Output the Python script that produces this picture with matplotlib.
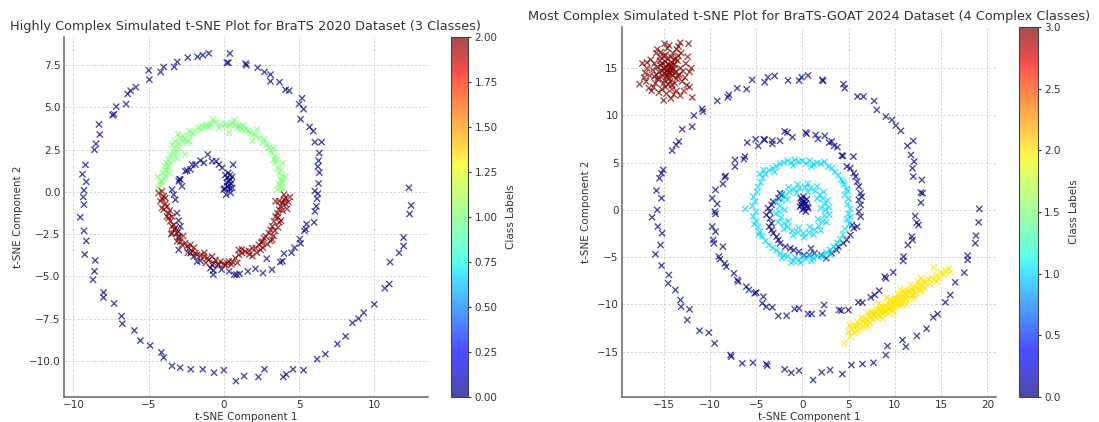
import numpy as np
import matplotlib
matplotlib.use("Agg")
import matplotlib.pyplot as plt

# ---------------- Left chart: BraTS 2020 (3 classes) ----------------
brats2020_class0 = [
    (-5.0, 7.2), (-4.95, 6.65), (-4.2, 7.1), (-4.0, 7.4), (-3.3, 7.4), (-3.1, 7.7), (-2.4, 7.95),
    (-1.75, 8.0), (-1.4, 8.1), (-1.0, 8.2), (0.2, 7.65), (0.3, 7.65), (0.4, 8.2), (1.45, 7.6),
    (1.5, 7.5), (2.25, 7.35), (2.7, 7.1), (3.1, 6.95), (3.1, 6.55), (3.7, 6.5), (4.1, 6.05),
    (4.35, 6.0), (5.2, 5.55), (5.0, 5.2), (5.3, 4.9), (5.1, 4.3), (5.7, 3.85), (5.95, 3.6),
    (6.05, 2.95), (6.5, 2.95), (6.35, 2.3), (6.3, 1.85), (6.25, 1.5), (6.35, 1.15), (6.3, 0.5),
    (6.05, 0.05), (6.25, -0.1), (6.2, -0.4), (6.15, -0.85), (6.05, -1.15), (6.0, -1.8),
    (5.5, -1.9), (5.45, -2.2), (5.35, -2.3), (5.05, -2.8), (5.1, -3.05), (4.7, -3.3), (4.5, -3.6),
    (4.0, -3.65), (3.9, -4.1), (3.75, -4.15), (3.2, -4.6), (2.85, -3.95), (2.6, -4.8), (2.1, -4.55),
    (1.6, -4.7), (1.05, -4.85), (0.85, -4.9), (0.7, -4.9), (0.35, -4.7), (-0.15, -4.6),
    (-0.7, -4.65), (-0.7, -4.9),
    (-6.5, 5.2), (-7.15, 5.05), (-7.3, 4.6), (-7.4, 4.55), (-6.4, 5.8), (-6.2, 6.0), (-5.85, 6.2),
    (-8.3, 4.0), (-8.25, 3.4), (-8.5, 2.85), (-8.6, 2.5), (-9.2, 1.6), (-9.4, 1.05), (-9.15, 0.6),
    (-9.3, 0.1), (-9.35, -0.3), (-9.3, -0.75), (-9.55, -1.5), (-9.3, -2.3), (-9.15, -2.9),
    (-9.25, -3.7), (-8.55, -4.05), (-8.6, -4.7), (-8.7, -5.2), (-8.0, -5.95), (-8.0, -6.25),
    (-7.3, -6.6), (-6.8, -7.35), (-6.75, -7.8), (-5.95, -8.2), (-5.55, -8.8), (-4.9, -9.1),
    (-4.15, -9.5), (-4.0, -9.8), (-3.45, -10.3), (-2.9, -10.4), (-2.2, -10.5), (-1.4, -10.5),
    (-0.65, -10.7), (0.0, -10.55), (0.8, -11.2), (1.35, -10.9), (2.3, -10.95), (2.7, -10.5),
    (3.95, -10.95), (4.15, -10.8), (4.6, -10.5), (5.3, -10.55), (6.2, -9.9), (6.75, -9.6),
    (7.55, -9.0), (8.1, -8.55), (8.55, -7.75), (8.95, -7.5), (9.3, -7.15), (10.0, -6.65),
    (10.7, -5.7), (11.0, -5.45), (11.05, -4.15), (11.65, -3.6), (11.95, -3.2), (11.95, -2.7),
    (12.35, -1.3), (12.45, -0.8), (12.3, 0.25),
    (0.22, 0.83), (0.33, 0.63), (0.44, 0.73), (0.22, 0.34), (0.38, 0.2), (0.56, 0.24),
    (0.16, -0.16), (0.0, 0.14), (0.29, 1.13), (0.62, 1.62), (0.1, 1.0), (0.4, 1.0), (0.5, 0.5),
    (0.3, 0.3), (0.45, -0.05), (0.2, 0.55), (0.05, 0.2), (0.55, 0.9),
    (-0.11, 1.43), (-0.33, 1.62), (-0.51, 1.82), (-0.78, 1.82), (-1.07, 2.22), (-1.33, 1.72),
    (-1.56, 1.86), (-1.89, 1.62), (-2.11, 1.62), (-2.22, 1.33), (-2.44, 1.27), (-2.56, 1.23),
    (-2.89, 0.73), (-3.0, 0.63), (-2.95, 0.75), (-2.78, 0.34), (-3.44, 0.14), (-3.33, -0.16),
    (-3.22, -0.46), (-3.11, -1.25), (-3.0, -1.7), (-2.89, -2.04), (-3.04, -2.34), (-3.0, -2.63),
    (-3.0, -3.43), (-2.33, -3.33), (-2.22, -3.62), (-2.0, -3.82), (-1.78, -4.12), (-1.56, -4.08),
    (-0.78, -4.32), (-0.89, -4.51), (-0.33, -4.32),
]
brats2020_class1 = [
    (-4.33, 0.2), (-4.22, 0.44), (-4.11, 0.63), (-4.0, 0.83), (-3.89, 0.93), (-4.07, 1.13),
    (-3.78, 1.23), (-3.67, 1.52), (-3.89, 1.52), (-3.56, 1.72), (-3.44, 2.02), (-3.56, 2.22),
    (-3.33, 2.32), (-3.11, 2.32), (-3.0, 2.61), (-3.0, 2.81), (-3.04, 3.41), (-2.89, 3.21),
    (-2.78, 3.01), (-2.56, 3.11), (-2.44, 2.91), (-2.33, 3.01), (-2.56, 2.22), (-2.11, 3.5),
    (-1.89, 3.6), (-1.67, 3.8), (-1.44, 3.9), (-1.22, 3.9), (-1.0, 3.84), (-0.89, 4.0),
    (-0.56, 4.1), (-0.22, 4.0), (0.11, 4.04), (0.44, 3.96), (0.33, 3.5), (0.56, 4.1), (0.78, 4.0),
    (1.0, 3.9), (1.11, 3.8), (1.22, 3.7), (1.44, 3.7), (1.78, 3.5), (2.0, 3.41), (2.11, 3.31),
    (1.89, 3.01), (2.67, 3.11), (2.89, 2.81), (3.0, 2.61), (3.11, 2.42), (3.44, 2.12),
    (3.33, 1.92), (3.44, 1.72), (3.56, 1.43), (3.67, 1.13), (3.89, 0.93), (3.78, 0.73),
    (3.89, 0.53), (3.67, 0.44), (3.78, 0.24), (4.0, 0.2), (3.56, 0.14), (-3.44, 2.81),
    (-3.22, 3.01), (-3.9, 1.3), (-3.7, 1.9), (-3.3, 2.6), (-2.7, 3.3), (-2.2, 3.3), (-1.5, 3.7),
    (-0.3, 3.8), (0.9, 3.8), (1.6, 3.6), (2.4, 3.2), (2.6, 2.9), (3.2, 2.3), (3.5, 1.9),
    (3.8, 1.3), (3.9, 0.7), (-4.2, 0.6), (-3.8, 1.7), (1.3, 3.95), (-1.1, 4.0), (0.2, 3.9),
    (-3.6, 1.1), (-3.1, 2.0), (-2.3, 3.6), (-0.7, 4.3), (0.7, 4.25), (2.2, 3.7), (3.3, 2.6),
    (3.9, 1.7), (4.1, 0.9), (-4.4, 0.9),
]
brats2020_class2 = [
    (-4.33, -0.06), (-4.11, 0.04), (-4.0, -0.26), (-4.22, -0.55), (-3.89, -0.36), (-4.11, -0.95),
    (-3.78, -0.85), (-4.0, -1.05), (-3.67, -1.25), (-3.78, -1.45), (-3.67, -1.54), (-3.44, -1.45),
    (-3.56, -1.74), (-3.33, -1.94), (-3.22, -2.14), (-3.44, -2.44), (-3.11, -2.44), (-3.0, -2.73),
    (-2.89, -2.93), (-2.78, -3.13), (-2.56, -3.03), (-2.44, -3.23), (-2.22, -3.13), (-2.11, -3.52),
    (-1.89, -3.62), (-1.78, -3.72), (-1.56, -3.76), (-1.33, -3.82), (-1.11, -3.92), (-1.0, -4.02),
    (-0.78, -3.82), (-0.56, -4.02), (-0.22, -4.12), (0.0, -4.28), (0.11, -4.32), (0.22, -4.22),
    (0.33, -4.12), (0.56, -4.12), (0.78, -3.92), (1.0, -3.72), (1.22, -3.62), (1.44, -3.52),
    (1.67, -3.49), (1.89, -3.33), (2.11, -3.33), (2.33, -3.13), (2.56, -2.93), (2.67, -2.73),
    (2.78, -2.63), (3.0, -2.44), (3.11, -2.24), (3.22, -2.04), (3.33, -1.74), (3.44, -1.45),
    (3.56, -1.25), (3.67, -1.05), (3.78, -0.85), (3.89, -0.65), (4.0, -0.46), (4.11, -0.36),
    (4.0, -0.16), (3.67, -0.55), (3.44, -0.55), (3.22, -2.83), (2.44, -3.43), (1.0, -3.43),
    (-0.67, -4.22), (-3.11, -2.93), (-3.44, -2.04), (4.1, -0.7), (4.3, -0.6), (4.2, -1.0),
    (3.6, -1.5), (3.8, -1.7), (3.3, -2.6), (3.1, -2.9), (2.5, -3.0), (2.6, -3.3), (3.9, -1.1),
    (3.7, -1.8), (3.4, -2.3), (2.2, -3.6), (1.7, -3.7), (1.2, -3.4), (0.5, -4.3), (-0.4, -4.3),
    (-1.3, -3.6), (-2.0, -3.3), (-2.7, -2.6), (-3.3, -2.2), (-3.6, -1.1), (-3.9, -0.7), (-4.1, -0.4),
    (-3.5, -2.5), (-2.4, -3.6), (-1.2, -4.2), (0.9, -4.2), (1.9, -3.8), (2.9, -3.1), (3.6, -2.1),
    (4.4, -0.3),
]

# ---------------- Right chart: BraTS-GOAT 2024 (4 classes) ----------------
goat2024_class0 = [
    (-5.42, 13.77), (-4.08, 13.52), (-3.72, 14.05), (-3.0, 14.19), (-1.55, 13.7), (-0.36, 13.7),
    (-0.07, 14.05), (0.61, 14.23), (2.17, 13.77), (2.24, 13.66), (4.44, 13.31), (4.58, 12.88),
    (5.96, 12.0), (6.61, 12.0), (7.76, 11.54), (8.05, 10.59), (9.03, 9.88), (9.68, 9.53),
    (10.11, 8.93), (10.65, 8.37), (11.37, 6.78), (11.99, 7.31), (11.73, 5.82), (12.09, 5.12),
    (11.91, 4.41), (11.99, 3.53), (12.92, 3.18), (12.82, 1.84), (13.0, 1.76), (12.82, 0.78),
    (12.2, -0.64), (12.38, -1.34), (12.56, -1.59), (11.84, -2.82), (11.91, -3.18), (11.41, -3.71),
    (10.94, -4.94), (10.9, -5.4), (9.82, -6.6), (8.92, -7.06), (9.03, -7.24), (8.3, -8.54),
    (7.83, -9.0), (7.4, -9.25), (6.5, -9.81), (6.06, -9.78),
    (-7.04, 12.88), (-6.03, 12.78), (-7.94, 12.18), (-8.05, 11.93), (-9.2, 11.54), (-10.83, 10.7),
    (-10.76, 10.41), (-11.73, 9.99), (-11.91, 8.82), (-12.99, 8.54), (-13.36, 7.24), (-13.65, 6.88),
    (-14.08, 6.28), (-15.05, 4.24), (-15.23, 3.88), (-15.45, 3.35), (-15.78, 2.05), (-15.23, 1.24),
    (-15.7, 0.0), (-16.25, -0.78), (-15.63, -1.76), (-15.16, -2.47), (-15.34, -3.71), (-15.88, -4.69),
    (-15.23, -5.89), (-14.44, -6.88), (-14.51, -7.77), (-13.72, -8.47), (-13.18, -9.53),
    (-13.11, -10.24), (-12.2, -10.52), (-12.45, -11.65), (-11.12, -12.78), (-10.11, -12.99),
    (-9.49, -14.12), (-7.76, -15.35), (-7.69, -15.53), (-6.5, -16.24), (-5.34, -16.17),
    (-3.9, -16.31), (-3.79, -16.48), (-1.91, -16.87), (-1.19, -17.23), (-0.36, -17.01),
    (1.16, -18.0), (2.09, -17.19), (3.0, -16.94), (4.33, -17.37), (5.31, -16.41), (6.5, -16.31),
    (7.69, -16.17), (9.03, -15.35), (9.21, -14.4), (10.83, -13.77), (11.19, -14.47),
    (12.38, -13.34), (13.43, -12.57), (14.15, -11.37), (14.62, -11.01), (15.45, -9.78),
    (15.99, -9.0), (16.53, -7.66), (17.51, -6.64), (17.87, -5.29), (17.87, -4.84), (18.7, -3.53),
    (18.77, -2.72), (19.06, -1.31), (19.13, 0.11),
    (-1.91, 8.3), (-1.62, 8.19), (-1.08, 7.7), (0.36, 8.19), (0.47, 8.05), (1.44, 7.94),
    (1.7, 7.52), (2.42, 7.84), (2.89, 7.13), (3.18, 7.24), (3.43, 6.78), (3.79, 6.64), (4.26, 5.75),
    (4.4, 5.72), (5.52, 5.65), (-5.05, 7.48), (-4.77, 6.78), (-4.15, 7.48), (-4.08, 7.41),
    (-3.25, 7.34), (-3.25, 6.99), (-2.42, 7.31), (-5.96, 7.13), (-6.21, 5.65), (-6.32, 5.37),
    (-7.29, 5.29), (-7.29, 4.59), (-8.3, 3.6), (-8.38, 3.46), (-8.59, 2.75), (-9.39, 2.12),
    (-9.75, 1.24), (-9.21, 0.64), (-9.46, -0.18), (-9.39, -0.42), (-9.75, -1.76), (-9.39, -2.29),
    (-9.64, -3.18), (-9.57, -3.53), (-8.59, -3.88), (-9.03, -4.94), (-8.92, -5.22), (-8.38, -5.65),
    (-8.23, -6.0), (-7.4, -6.71), (-7.04, -7.41), (-6.93, -7.59), (-6.06, -8.12), (-5.78, -8.47),
    (-5.16, -8.82), (-4.98, -8.75), (-4.22, -9.18), (-4.33, -9.88), (-3.9, -10.24), (-3.25, -10.31),
    (-2.6, -11.22), (-1.7, -11.19), (-0.83, -10.48), (-0.36, -10.41), (0.61, -11.01), (1.01, -11.01),
    (2.35, -10.06), (2.17, -10.94), (3.97, -10.59), (4.22, -10.66), (4.98, -10.59),
    (-0.19, 1.24), (0.0, 1.06), (0.19, 0.88), (0.37, 0.71), (-0.11, 0.53), (0.56, 0.35),
    (0.19, 0.18), (0.0, 0.0), (0.37, -0.18), (0.63, 0.18), (-0.26, 0.35), (0.11, 1.41),
    (0.48, 1.13), (0.26, 0.53), (-0.04, 0.78),
    (-2.22, 1.59), (-2.41, 1.77), (-2.59, 1.24), (-3.15, 0.88), (-3.33, 0.53), (-3.7, 0.18),
    (-3.52, -0.18), (-3.89, -0.53), (-3.52, -0.88), (-3.33, -1.41), (-3.59, -1.77), (-3.33, -2.12),
    (-3.15, -2.47), (-2.78, -2.83), (-2.59, -3.18), (-2.41, -3.53), (-1.85, -3.89), (-1.3, -4.06),
    (-0.93, -4.24), (-0.37, -4.42), (0.19, -4.77), (0.93, -4.06), (0.74, -4.77), (1.3, -4.59),
    (2.04, -4.77), (2.59, -5.12), (3.15, -4.59), (3.7, -4.24), (3.89, -3.89), (4.44, -3.53),
    (4.81, -3.18), (5.19, -2.65), (5.56, -1.94), (5.93, -1.77), (5.37, -1.59), (6.3, -0.71),
    (6.11, -0.18), (6.3, 0.53), (6.11, 1.06), (6.41, 1.41), (6.3, 1.77), (6.11, 2.47), (5.93, 3.0),
    (5.74, 3.53), (5.56, 3.89), (5.19, 4.42), (4.81, 4.59),
]
goat2024_class1 = [
    (-4.0, 3.8), (-3.6, 4.2), (-3.2, 4.4), (-2.8, 4.6), (-2.4, 4.9), (-2.0, 5.0), (-1.6, 5.2),
    (-1.2, 5.0), (-0.8, 5.3), (-0.4, 5.1), (0.0, 5.2), (0.4, 4.9), (0.8, 5.2), (1.2, 4.8),
    (1.6, 5.0), (2.0, 4.9), (2.4, 5.1), (2.8, 4.6), (3.2, 4.4), (3.5, 4.0), (3.9, 3.7),
    (4.2, 3.2), (4.5, 2.7), (4.8, 2.2), (4.6, 1.6), (5.0, 1.2), (4.9, 0.6), (5.2, 0.1), (5.0, -0.4),
    (4.8, -1.0), (5.1, -1.5), (4.6, -2.0), (4.4, -2.6), (4.1, -3.1), (3.8, -3.5), (3.4, -3.9),
    (3.0, -4.2), (2.6, -4.5), (2.1, -4.8), (1.6, -4.9), (1.2, -5.1), (0.8, -4.8), (0.4, -5.2),
    (0.0, -5.0), (-0.4, -5.3), (-0.8, -5.0), (-1.2, -5.6), (-1.6, -4.9), (-2.0, -4.8),
    (-2.4, -4.6), (-2.8, -4.3), (-3.2, -4.0), (-3.6, -3.7), (-4.0, -3.3), (-4.3, -2.8),
    (-4.6, -2.3), (-4.8, -1.8), (-5.0, -1.2), (-5.3, -0.7), (-5.0, -0.2), (-6.2, 0.1),
    (-5.4, 0.4), (-5.1, 0.9), (-5.3, 1.4), (-4.9, 1.9), (-4.8, 2.4), (-4.5, 2.9), (-4.3, 3.4),
    (-1.0, -5.4), (1.0, -5.4), (2.2, -5.0), (-2.2, -5.1), (-4.7, -2.6), (-5.2, -1.5), (4.9, 2.0),
    (5.2, -0.8), (-3.0, 4.0), (1.0, 4.6), (-1.0, 4.7), (3.0, -4.7), (-0.2, -5.6), (4.4, 3.0),
    (-4.6, 3.8), (-4.2, 4.2),
    (2.5, 0.0), (2.4, 0.6), (2.2, 1.2), (1.9, 1.6), (1.4, 2.0), (0.9, 2.3), (0.3, 2.4),
    (-0.3, 2.3), (-0.9, 2.2), (-1.4, 1.9), (-1.9, 1.5), (-2.2, 1.0), (-2.4, 0.4), (-2.5, -0.2),
    (-2.3, -0.8), (-2.0, -1.4), (-1.6, -1.8), (-1.1, -2.2), (-0.5, -2.4), (0.1, -2.5), (0.7, -2.4),
    (1.3, -2.1), (1.8, -1.7), (2.2, -1.2), (2.4, -0.6), (2.9, 0.3), (2.7, 1.0), (2.3, 1.9),
    (1.6, 2.5), (0.6, 2.8), (-0.5, 2.7), (-1.5, 2.4), (-2.2, 1.7), (-2.8, 0.8), (-2.9, -0.4),
    (-2.6, -1.3), (-2.0, -2.0), (-1.0, -2.7), (0.2, -2.9), (1.2, -2.6), (2.0, -2.2), (2.6, -1.3),
    (2.9, -0.5), (2.0, 0.2), (1.6, 1.2), (0.6, 1.9), (-0.6, 1.8), (-1.6, 1.1), (-1.9, 0.0),
    (-1.5, -1.2), (-0.4, -1.9), (0.8, -1.8), (1.7, -1.0),
]
goat2024_class2 = [
    (5.0, -12.9), (5.2, -13.4), (5.4, -12.6), (5.6, -13.0), (5.8, -12.3), (6.0, -12.8),
    (6.2, -12.1), (6.3, -12.6), (6.5, -11.8), (6.6, -12.3), (6.8, -11.5), (6.9, -12.0),
    (7.0, -11.7), (7.2, -11.2), (7.3, -11.9), (7.4, -11.4), (7.6, -11.0), (7.7, -11.6),
    (7.8, -11.2), (7.9, -10.8), (8.0, -11.4), (8.1, -10.9), (8.2, -11.1), (8.3, -10.5),
    (8.4, -11.3), (8.5, -10.7), (8.6, -10.9), (8.7, -10.3), (8.8, -10.8), (8.9, -10.5),
    (9.0, -10.1), (9.1, -10.7), (9.2, -10.3), (9.3, -9.9), (9.4, -10.5), (9.5, -10.1),
    (9.6, -9.7), (9.7, -10.3), (9.8, -9.9), (9.9, -9.6), (10.0, -10.2), (10.1, -9.8),
    (10.2, -9.4), (10.3, -10.0), (10.4, -9.6), (10.5, -9.2), (10.6, -9.8), (10.7, -9.4),
    (10.8, -9.0), (10.9, -9.6), (11.0, -9.2), (11.1, -8.8), (11.2, -9.4), (11.3, -9.0),
    (11.4, -8.6), (11.5, -9.1), (11.6, -8.7), (11.8, -8.4), (11.9, -9.0), (12.0, -8.5),
    (12.2, -8.1), (12.3, -8.8), (12.4, -8.3), (12.6, -7.9), (12.7, -8.5), (12.9, -8.0),
    (13.1, -7.6), (13.2, -8.2), (13.4, -7.7), (13.6, -7.3), (13.8, -7.8), (14.0, -7.1),
    (14.2, -6.1), (14.3, -7.4), (14.6, -6.9), (14.8, -7.2), (15.0, -6.6), (15.3, -6.9),
    (15.5, -6.4), (15.8, -6.2), (16.0, -6.6), (4.5, -14.1),
    (8.5, -10.2), (9.0, -10.8), (9.5, -9.5), (10.0, -9.4), (10.5, -10.1), (11.0, -8.5),
    (11.5, -9.5), (12.0, -9.0), (7.5, -10.7), (8.0, -10.5), (9.8, -10.6), (10.8, -10.0),
    (12.5, -7.6), (6.0, -11.9), (5.5, -12.2), (7.0, -12.3), (13.0, -8.6), (14.5, -7.6),
    (9.3, -11.0), (10.4, -8.9), (6.4, -11.4), (7.1, -10.9), (8.3, -9.9), (9.1, -9.3),
    (10.6, -8.4), (11.7, -7.9), (12.8, -7.2), (8.7, -11.5), (9.9, -10.9), (11.2, -10.0),
    (12.1, -9.4), (5.1, -12.2),
]
goat2024_class3 = [
    (-14.6, 14.8), (-14.3, 15.1), (-14.9, 14.5), (-14.5, 15.4), (-14.2, 14.4), (-15.0, 15.0),
    (-14.7, 14.1), (-14.1, 15.6), (-15.2, 14.7), (-14.4, 13.9), (-14.8, 15.7), (-13.9, 14.9),
    (-15.3, 15.3), (-14.0, 14.2), (-15.1, 14.2), (-14.6, 16.0), (-13.8, 15.4), (-15.5, 14.6),
    (-14.3, 13.6), (-15.4, 15.8), (-13.7, 14.6), (-14.9, 13.7), (-14.2, 16.2), (-15.7, 15.1),
    (-13.6, 13.9), (-15.0, 16.3), (-13.5, 15.8), (-15.8, 14.3), (-14.5, 13.3), (-13.3, 14.3),
    (-14.0, 16.6), (-15.6, 13.8), (-13.2, 15.0), (-16.0, 15.5), (-14.8, 13.0), (-13.8, 13.4),
    (-15.3, 16.7), (-13.4, 16.3), (-16.2, 14.8), (-14.1, 12.8), (-12.9, 14.7), (-15.9, 13.4),
    (-14.6, 17.1), (-13.0, 13.6), (-16.4, 15.9), (-15.2, 12.8), (-13.1, 16.6), (-16.5, 14.2),
    (-13.6, 12.6), (-14.4, 17.4), (-12.7, 14.0), (-15.5, 12.4), (-13.9, 12.2), (-16.8, 15.0),
    (-12.6, 15.5), (-16.1, 13.0), (-14.2, 11.8), (-13.4, 17.3), (-15.8, 16.6), (-12.5, 13.2),
    (-17.0, 14.5), (-16.3, 12.6), (-13.2, 12.1), (-14.9, 17.6), (-12.4, 16.2), (-17.3, 15.5),
    (-17.6, 13.3), (-16.8, 15.6), (-12.2, 13.0), (-11.9, 11.9), (-12.3, 17.6), (-13.2, 17.7),
    (-17.1, 14.0), (-12.8, 12.6), (-15.0, 11.6), (-16.6, 12.9), (-12.2, 14.6), (-13.6, 17.0),
    (-15.7, 17.0), (-14.7, 12.3), (-16.9, 13.6), (-12.0, 15.0), (-14.0, 15.0), (-14.5, 14.5),
    (-15.2, 15.5), (-13.9, 15.9), (-15.0, 13.4), (-14.3, 14.9), (-14.8, 16.4), (-13.5, 14.2),
    (-15.6, 14.0), (-14.1, 13.2), (-15.4, 16.2), (-13.7, 16.0), (-16.0, 14.1),
    (-14.4, 14.6), (-14.7, 15.2), (-14.1, 14.7), (-14.9, 14.9), (-14.6, 14.3), (-14.2, 15.3),
]

left_title = "Highly Complex Simulated t-SNE Plot for BraTS 2020 Dataset (3 Classes)"
right_title = "Most Complex Simulated t-SNE Plot for BraTS-GOAT 2024 Dataset (4 Complex Classes)"
x_label = "t-SNE Component 1"
y_label = "t-SNE Component 2"
cbar_label = "Class Labels"


def stack(groups):
    xs, ys, cs = [], [], []
    for lab, pts in enumerate(groups):
        arr = np.asarray(pts, dtype=float)
        xs.append(arr[:, 0])
        ys.append(arr[:, 1])
        cs.append(np.full(len(arr), lab))
    return np.concatenate(xs), np.concatenate(ys), np.concatenate(cs)


TXT = "#333333"
plt.rcParams['font.family'] = ['DejaVu Sans']

fig = plt.figure(figsize=(10.99, 4.22), dpi=100)
fig.patch.set_facecolor("white")


def style(ax):
    ax.set_facecolor("white")
    ax.grid(True, color="#cfcfcf", linestyle=(0, (3, 2)), linewidth=0.6)
    ax.set_axisbelow(True)
    for s in ("top", "right"):
        ax.spines[s].set_visible(False)
    for s in ("left", "bottom"):
        ax.spines[s].set_color("#666666")
        ax.spines[s].set_linewidth(1.1)
    ax.tick_params(length=0, labelsize=7.5, colors=TXT, pad=2.5)
    ax.set_xlabel(x_label, fontsize=7.5, color=TXT, labelpad=1)
    ax.set_ylabel(y_label, fontsize=7.5, color=TXT, labelpad=4)


def cbar_style(cb):
    cb.outline.set_edgecolor("#444444")
    cb.outline.set_linewidth(0.8)
    cb.ax.tick_params(labelsize=7.5, colors=TXT, length=2.5, width=0.8, pad=2)
    cb.set_label(cbar_label, fontsize=7.5, color=TXT, labelpad=6)


# left
ax1 = fig.add_axes([0.0582, 0.0592, 0.3312, 0.853])
cax1 = fig.add_axes([0.4104, 0.0592, 0.0155, 0.853])
x, y, c = stack([brats2020_class0, brats2020_class1, brats2020_class2])
sc1 = ax1.scatter(x, y, c=c, cmap="jet", marker="x", s=20, linewidths=1.0,
                  alpha=0.7, vmin=0, vmax=2)
ax1.set_xlim(-10.63, 13.57)
ax1.set_ylim(-12.14, 9.17)
style(ax1)
ax1.set_title(left_title, fontsize=9.3, color=TXT, pad=5)
cb1 = fig.colorbar(sc1, cax=cax1)
cbar_style(cb1)

# right
ax2 = fig.add_axes([0.566, 0.0592, 0.3403, 0.877])
cax2 = fig.add_axes([0.9272, 0.0592, 0.0173, 0.877])
x, y, c = stack([goat2024_class0, goat2024_class1, goat2024_class2, goat2024_class3])
sc2 = ax2.scatter(x, y, c=c, cmap="jet", marker="x", s=20, linewidths=1.0,
                  alpha=0.7, vmin=0, vmax=3)
ax2.set_xlim(-19.5, 20.94)
ax2.set_ylim(-19.8, 19.37)
style(ax2)
ax2.set_title(right_title, fontsize=9.3, color=TXT, pad=5)
cb2 = fig.colorbar(sc2, cax=cax2)
cbar_style(cb2)

fig.savefig("out.png", dpi=100, facecolor="white")
